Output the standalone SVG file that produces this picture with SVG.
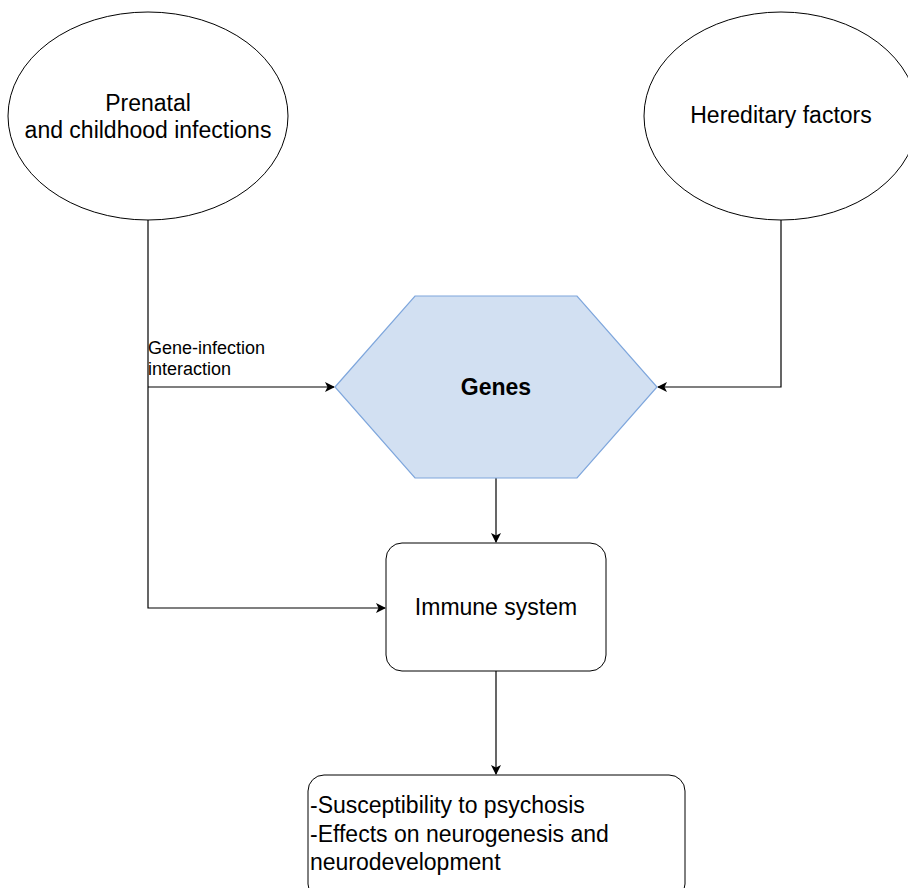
<svg xmlns="http://www.w3.org/2000/svg" width="908" height="888" viewBox="0 0 908 888">
<defs>
<style>
.n{fill:#fff;stroke:#000;stroke-width:1}
.t{font-family:"Liberation Sans",Arial,sans-serif;font-size:23px;fill:#000}
.l{font-family:"Liberation Sans",Arial,sans-serif;font-size:18px;fill:#000}
.c{fill:none;stroke:#000;stroke-width:1.2}
</style>
<marker id="a" viewBox="0 0 10 10" refX="9" refY="5" markerWidth="10" markerHeight="10" markerUnits="userSpaceOnUse" orient="auto">
<path d="M0,0 L10,5 L0,10 L2.5,5 Z" fill="#000"/>
</marker>
</defs>
<rect width="908" height="888" fill="#fff"/>
<g id="connectors">
<path class="c" d="M148,220 V608 H385" marker-end="url(#a)"/>
<path class="c" d="M148,387 H334" marker-end="url(#a)"/>
<path class="c" d="M781,220 V387 H658" marker-end="url(#a)"/>
<path class="c" d="M496,478 V542" marker-end="url(#a)"/>
<path class="c" d="M496,671 V774" marker-end="url(#a)"/>
<text class="l" x="148" y="354">Gene-infection</text>
<text class="l" x="148" y="375">interaction</text>
</g>
<g id="prenatal">
<ellipse class="n" cx="148" cy="116" rx="140" ry="104"/>
<text class="t" x="148" y="111" text-anchor="middle">Prenatal</text>
<text class="t" x="148" y="138" text-anchor="middle">and childhood infections</text>
</g>
<g id="hereditary">
<ellipse class="n" cx="781" cy="116" rx="137" ry="104"/>
<text class="t" x="781" y="123" text-anchor="middle">Hereditary factors</text>
</g>
<g id="genes">
<polygon points="335,387 415,296 577,296 657,387 577,478 415,478" fill="#d2e0f2" stroke="#7ea6dc" stroke-width="1.2"/>
<text class="t" x="496" y="395" text-anchor="middle" font-weight="bold">Genes</text>
</g>
<g id="immune">
<rect class="n" x="386" y="543" width="220" height="128" rx="16"/>
<text class="t" x="496" y="615" text-anchor="middle">Immune system</text>
</g>
<g id="outcome">
<rect class="n" x="308" y="775" width="377" height="125" rx="16"/>
<text class="t" x="310" y="813">-Susceptibility to psychosis</text>
<text class="t" x="310" y="842">-Effects on neurogenesis and</text>
<text class="t" x="310" y="870">neurodevelopment</text>
</g>
</svg>
